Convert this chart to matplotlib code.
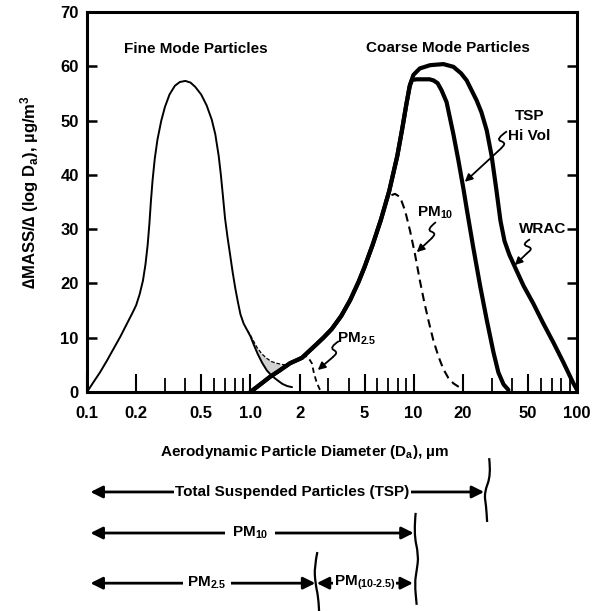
import numpy as np
import matplotlib
matplotlib.use('Agg')
import matplotlib.pyplot as plt
from matplotlib.path import Path
from matplotlib.patches import PathPatch
from matplotlib.transforms import IdentityTransform

# --- data (diameter in um, dM/dlogD in ug/m3) ---
fine_x = [0.1, 0.11, 0.12, 0.132, 0.145, 0.16, 0.175, 0.19, 0.2, 0.21, 0.22, 0.228,
          0.235, 0.241, 0.246, 0.252, 0.26, 0.27, 0.285, 0.3, 0.32, 0.345, 0.37, 0.4,
          0.43, 0.46, 0.5, 0.54, 0.58, 0.61, 0.64, 0.66, 0.68, 0.7, 0.725, 0.75, 0.78,
          0.81, 0.84, 0.87, 0.91, 0.96, 1.0, 1.05, 1.11, 1.18, 1.26, 1.35, 1.46, 1.57,
          1.68, 1.8]
fine_y = [0, 1.9, 3.6, 5.7, 7.9, 10.2, 12.5, 14.6, 16.0, 18.0, 20.5, 23.5,
          27.0, 31.0, 35.0, 39.0, 43.0, 46.5, 50.0, 52.5, 54.8, 56.4, 57.1, 57.3,
          57.0, 56.2, 54.8, 52.8, 50.2, 47.5, 43.5, 40.0, 36.0, 32.0, 28.5, 25.5, 22.0,
          19.0, 16.5, 14.3, 12.6, 11.3, 10.3, 8.7, 7.0, 5.4, 4.0, 3.0, 2.2, 1.5,
          1.1, 0.9]

# fine-mode tail that extends into the coarse range (thin dashed) and shaded overlap
tail_x = [0.96, 1.0, 1.094, 1.17, 1.26, 1.35, 1.45, 1.55, 1.63, 1.72]
tail_y = [11.3, 10.5, 8.3, 7.1, 6.2, 5.6, 5.3, 5.1, 5.0, 5.2]
shade_lo = [11.3, 10.3, 7.4, 5.6, 4.0, 3.1, 3.5, 4.1, 4.6, 5.1]

# TSP Hi Vol (thick inner curve)
tsp_x = [1.0, 1.15, 1.32, 1.5, 1.75, 2.07, 2.5, 2.8, 3.15, 3.6, 4.08, 4.6, 5.0, 5.62,
         6.31, 7.08, 7.94, 8.51, 9.02, 9.44, 9.77, 10.5, 11.5, 12.5, 13.2, 14.0, 14.8,
         15.9, 17.5, 18.8, 20.2, 21.1, 23.2, 25.5, 28.0, 30.8, 33.0, 35.5, 38.0]
tsp_y = [0, 1.4, 2.8, 3.9, 5.3, 6.3, 8.6, 10.0, 11.6, 14.0, 16.9, 20.3, 23.0, 27.2,
         31.8, 37.0, 43.5, 48.5, 53.0, 56.3, 57.5, 57.6, 57.6, 57.6, 57.4, 56.9, 55.6,
         53.4, 47.5, 42.6, 37.3, 33.8, 26.5, 19.6, 13.3, 7.3, 3.6, 1.4, 0.4]

# WRAC (thick outer curve)
wrac_x = [1.0, 1.15, 1.32, 1.5, 1.75, 2.07, 2.5, 2.8, 3.15, 3.6, 4.08, 4.6, 5.0, 5.62,
          6.31, 7.08, 7.94, 8.51, 9.02, 9.5, 9.96, 10.9, 12.6, 15.2, 17.5, 19.5, 21.1,
          24.3, 26.0, 28.0, 30.0, 32.0, 34.0, 36.0, 38.5, 42.0, 47.0, 54.0, 62.0, 72.0,
          83.0, 95.0, 100.0]
wrac_y = [0, 1.4, 2.8, 3.9, 5.3, 6.3, 8.6, 10.0, 11.6, 14.0, 16.9, 20.3, 23.0, 27.2,
          31.8, 37.0, 43.5, 48.5, 53.0, 56.6, 58.4, 59.6, 60.2, 60.4, 59.9, 58.7, 57.4,
          53.7, 51.5, 48.2, 43.5, 37.5, 31.5, 27.8, 25.3, 22.8, 19.6, 16.3, 12.7, 9.0,
          5.3, 1.6, 0.4]

# PM10 sampler (dashed)
pm10_x = [6.31, 6.6, 6.84, 7.2, 7.69, 8.26, 8.86, 9.5, 10.2, 10.9, 11.6, 12.4, 13.2,
          14.2, 15.2, 16.3, 17.5, 19.2]
pm10_y = [31.8, 34.0, 35.3, 36.2, 36.5, 35.9, 33.4, 29.7, 25.3, 20.6, 16.6, 12.8, 9.5,
          6.5, 4.2, 2.6, 1.6, 0.8]

# PM2.5 sampler (dashed)
pm25_x = [2.07, 2.15, 2.21, 2.3, 2.38, 2.45, 2.55, 2.67]
pm25_y = [6.3, 6.6, 6.5, 6.0, 5.3, 3.5, 1.7, 0.4]

xtick_vals = [0.1, 0.2, 0.5, 1.0, 2, 5, 10, 20, 50, 100]
xtick_text = ['0.1', '0.2', '0.5', '1.0', '2', '5', '10', '20', '50', '100']
xminor_vals = [0.3, 0.4, 0.6, 0.7, 0.8, 0.9, 3, 4, 6, 7, 8, 9, 30, 40, 60, 70, 80, 90]
ytick_vals = [0, 10, 20, 30, 40, 50, 60, 70]

plt.rcParams['font.family'] = ['Liberation Sans', 'DejaVu Sans']
plt.rcParams['font.weight'] = 'bold'
plt.rcParams['mathtext.fontset'] = 'custom'
plt.rcParams['mathtext.rm'] = 'Liberation Sans:bold'
plt.rcParams['mathtext.it'] = 'Liberation Sans:bold'
plt.rcParams['mathtext.bf'] = 'Liberation Sans:bold'
plt.rcParams['mathtext.default'] = 'rm'


def smooth_path(pts):
    """Quadratic-bezier path through a handful of guide points."""
    verts = [pts[0]]
    codes = [Path.MOVETO]
    for i in range(1, len(pts) - 1):
        mid = ((pts[i][0] + pts[i + 1][0]) / 2, (pts[i][1] + pts[i + 1][1]) / 2)
        verts += [pts[i], mid]
        codes += [Path.CURVE3, Path.CURVE3]
    verts.append(pts[-1])
    codes.append(Path.LINETO)
    return Path(verts, codes)


def leader(ax, pts, tip):
    """Little squiggle followed by an arrow, in axes fraction coords."""
    ax.add_patch(PathPatch(smooth_path(pts), transform=ax.transAxes, fill=False,
                           lw=1.3, color='black', clip_on=False))
    ax.annotate('', xy=tip, xytext=pts[-1], xycoords='axes fraction',
                arrowprops=dict(arrowstyle='-|>', lw=1.3, color='black',
                                mutation_scale=11, shrinkA=0, shrinkB=0))


def brace(ax, x_val, offsets):
    """Wavy vertical bracket below the axes; offsets = (dx pixels, y axes fraction)."""
    trans = ax.get_xaxis_transform()
    pts = []
    for dx, yf in offsets:
        px, py = trans.transform((x_val, yf))
        pts.append((px + dx, py))
    ax.add_patch(PathPatch(smooth_path(pts), transform=IdentityTransform(), fill=False,
                           lw=1.6, color='black', clip_on=False))


def span_arrow(ax, x0, x1, y, label, xlab, pad):
    trans = ax.get_xaxis_transform()
    ax.annotate('', xy=(x1, y), xytext=(x0, y), xycoords=trans, annotation_clip=False,
                arrowprops=dict(arrowstyle='<|-|>', lw=2.0, color='black',
                                mutation_scale=18, shrinkA=0, shrinkB=0))
    ax.text(xlab, y, label, transform=trans, ha='center', va='center', fontsize=11,
            bbox=dict(facecolor='white', edgecolor='none', pad=pad))


fig = plt.figure(figsize=(6, 6.11), dpi=100)
ax = fig.add_axes([0.145, 0.3584, 0.8167, 0.622])
ax.set_xscale('log')
ax.set_xlim(0.1, 100)
ax.set_ylim(0, 70)

line_kw = dict(color='black', solid_joinstyle='round', solid_capstyle='round')
ax.fill_between(tail_x, shade_lo, tail_y, color='0.82', lw=0)
ax.plot(fine_x, fine_y, lw=1.4, **line_kw)
ax.plot(tail_x, tail_y, color='black', lw=0.9, ls=(0, (3, 1.5)))
ax.plot(wrac_x, wrac_y, lw=3.0, **line_kw)
ax.plot(tsp_x, tsp_y, lw=3.0, **line_kw)
ax.plot(pm10_x, pm10_y, color='black', lw=1.5, ls=(0, (4, 2.5)))
ax.plot(pm25_x, pm25_y, color='black', lw=1.3, ls=(0, (3, 2)))

for s in ax.spines.values():
    s.set_linewidth(2.2)

ax.set_xticks(xtick_vals)
ax.set_xticklabels(xtick_text)
ax.set_xticks(xminor_vals, minor=True)
ax.set_xticklabels([], minor=True)
ax.tick_params(axis='x', which='major', direction='in', length=13, width=1.5, pad=10,
               labelsize=12)
ax.tick_params(axis='x', which='minor', direction='in', length=10, width=1.3)
ax.set_yticks(ytick_vals)
ax.tick_params(axis='y', direction='in', length=7, width=1.8, right=True, pad=6,
               labelsize=12)

ax.text(0.222, 0.903, 'Fine Mode Particles', transform=ax.transAxes, ha='center',
        va='center', fontsize=11)
ax.text(0.736, 0.905, 'Coarse Mode Particles', transform=ax.transAxes, ha='center',
        va='center', fontsize=11)
ax.text(0.904, 0.726, 'TSP', transform=ax.transAxes, ha='center', va='center', fontsize=11)
ax.text(0.902, 0.674, 'Hi Vol', transform=ax.transAxes, ha='center', va='center',
        fontsize=11)
ax.text(0.929, 0.429, 'WRAC', transform=ax.transAxes, ha='center', va='center',
        fontsize=11)
ax.text(0.71, 0.472, r'PM$_{10}$', transform=ax.transAxes, ha='center', va='center',
        fontsize=11)
ax.text(0.55, 0.14, r'PM$_{2.5}$', transform=ax.transAxes, ha='center', va='center',
        fontsize=11)

leader(ax, [(0.857, 0.686), (0.833, 0.665), (0.855, 0.656), (0.845, 0.641)], (0.771, 0.553))
leader(ax, [(0.904, 0.402), (0.886, 0.388), (0.910, 0.379), (0.897, 0.364)], (0.873, 0.334))
leader(ax, [(0.712, 0.447), (0.692, 0.427), (0.712, 0.418), (0.703, 0.404)], (0.673, 0.368))
leader(ax, [(0.514, 0.134), (0.494, 0.117), (0.512, 0.105), (0.501, 0.091)], (0.471, 0.058))

fig.text(0.05, 0.686, '\u2206MASS/\u2206 (log D$_a$), \u00b5g/m$^3$', rotation=90,
         ha='center', va='center', fontsize=12)
fig.text(0.507, 0.26, 'Aerodynamic Particle Diameter (D$_a$), \u00b5m', ha='center',
         va='center', fontsize=11)

# size-range arrows under the plot
span_arrow(ax, 0.105, 27, -0.263, 'Total Suspended Particles (TSP)', 1.8, 1)
span_arrow(ax, 0.105, 10, -0.371, r'PM$_{10}$', 1.0, 5)
span_arrow(ax, 0.105, 2.5, -0.503, r'PM$_{2.5}$', 0.54, 3)
span_arrow(ax, 2.55, 9.9, -0.503, r'PM$_{(10\text{-}2.5)}$', 5.0, 0.5)

brace(ax, 27, [(5, -0.174), (7, -0.218), (0, -0.265), (2, -0.300), (3, -0.342)])
brace(ax, 10, [(2, -0.318), (0, -0.371), (5, -0.430), (3, -0.470), (1, -0.503), (3, -0.560)])
brace(ax, 2.5, [(2, -0.421), (-1, -0.460), (0, -0.503), (3, -0.540), (4, -0.590)])

fig.savefig('out.png', dpi=100)
